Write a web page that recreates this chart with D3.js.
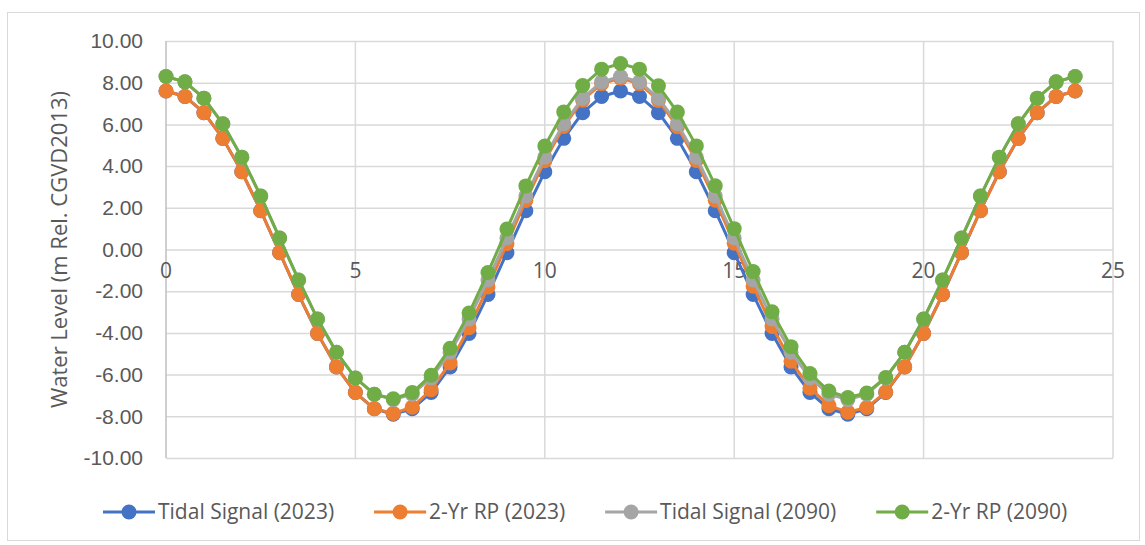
<!DOCTYPE html>
<html>
<head>
<meta charset="utf-8">
<script src="https://cdn.jsdelivr.net/npm/d3@7"></script>
<style>
  html, body { margin: 0; padding: 0; background: #fff; }
  svg { display: block; font-family: "Open Sans", "Liberation Sans", sans-serif; }
</style>
</head>
<body>
<div id="chart"></div>
<script>
// hours along the x axis, every half hour
const hours = [
  0, 0.5, 1, 1.5, 2, 2.5, 3, 3.5, 4, 4.5, 5, 5.5, 6, 6.5, 7, 7.5, 8, 8.5, 9, 9.5,
  10, 10.5, 11, 11.5, 12, 12.5, 13, 13.5, 14, 14.5, 15, 15.5, 16, 16.5, 17, 17.5,
  18, 18.5, 19, 19.5, 20, 20.5, 21, 21.5, 22, 22.5, 23, 23.5, 24,
];

// water levels (m)
const tide2023 = [
  7.6, 7.34, 6.56, 5.33, 3.73, 1.86, -0.15, -2.16, -4.03, -5.63, -6.86, -7.64, -7.9, -7.64, -6.86, -5.63, -4.03, -2.16, -0.15, 1.86,
  3.73, 5.33, 6.56, 7.34, 7.6, 7.34, 6.56, 5.33, 3.73, 1.86, -0.15, -2.16, -4.03, -5.63, -6.86, -7.64,
  -7.9, -7.64, -6.86, -5.63, -4.03, -2.16, -0.15, 1.86, 3.73, 5.33, 6.56, 7.34, 7.6,
];
const rp2023 = [
  7.6, 7.34, 6.56, 5.33, 3.73, 1.86, -0.15, -2.16, -4.03, -5.63, -6.86, -7.64, -7.86, -7.56, -6.73, -5.44, -3.75, -1.8, 0.28, 2.35,
  4.26, 5.9, 7.16, 7.95, 8.22, 7.95, 7.15, 5.89, 4.27, 2.36, 0.3, -1.76, -3.69, -5.36, -6.65, -7.49,
  -7.8, -7.58, -6.84, -5.63, -4.03, -2.16, -0.15, 1.86, 3.73, 5.33, 6.56, 7.34, 7.6,
];
const tide2090 = [
  8.3, 8.04, 7.26, 6.03, 4.43, 2.56, 0.55, -1.46, -3.33, -4.93, -6.16, -6.94, -7.2, -6.94, -6.16, -4.93, -3.33, -1.46, 0.55, 2.56,
  4.43, 6.03, 7.26, 8.04, 8.3, 8.04, 7.26, 6.03, 4.43, 2.56, 0.55, -1.46, -3.33, -4.93, -6.16, -6.94,
  -7.2, -6.94, -6.16, -4.93, -3.33, -1.46, 0.55, 2.56, 4.43, 6.03, 7.26, 8.04, 8.3,
];
const rp2090 = [
  8.3, 8.04, 7.26, 6.03, 4.43, 2.56, 0.55, -1.46, -3.33, -4.93, -6.16, -6.94, -7.16, -6.86, -6.03, -4.74, -3.05, -1.1, 0.98, 3.05,
  4.96, 6.6, 7.86, 8.65, 8.92, 8.65, 7.85, 6.59, 4.97, 3.06, 1.0, -1.06, -2.99, -4.66, -5.95, -6.79,
  -7.1, -6.88, -6.14, -4.93, -3.33, -1.46, 0.55, 2.56, 4.43, 6.03, 7.26, 8.04, 8.3,
];

const seriesNames = ["Tidal Signal (2023)", "2-Yr RP (2023)", "Tidal Signal (2090)", "2-Yr RP (2090)"];
const seriesValues = [tide2023, rp2023, tide2090, rp2090];
const colours = ["#4472C4", "#ED7D31", "#A5A5A5", "#70AD47"];

const xTicks = [0, 5, 10, 15, 20, 25];
const yTicks = [-10, -8, -6, -4, -2, 0, 2, 4, 6, 8, 10];
const yTitle = "Water Level (m Rel. CGVD2013)";

const width = 1145;
const height = 545;
const plot = { left: 166, right: 1113, top: 41, bottom: 458 };
const markerR = 7.5;
const fontSize = 21;

const svg = d3
  .select("#chart")
  .append("svg")
  .attr("width", width)
  .attr("height", height);

// chart area border
svg
  .append("rect")
  .attr("x", 7.5)
  .attr("y", 12.5)
  .attr("width", 1132)
  .attr("height", 528)
  .attr("fill", "#fff")
  .attr("stroke", "#d9d9d9");

const x = d3.scaleLinear().domain([0, 25]).range([plot.left, plot.right]);
const y = d3.scaleLinear().domain([-10, 10]).range([plot.bottom, plot.top]);

// horizontal gridlines + y labels
svg
  .append("g")
  .attr("transform", `translate(${plot.left},0)`)
  .call(
    d3.axisLeft(y)
      .tickValues(yTicks)
      .tickSize(-(plot.right - plot.left))
      .tickPadding(23)
      .tickFormat((d) => d.toFixed(2))
  )
  .call((g) => g.select(".domain").remove())
  .call((g) => g.selectAll("line").attr("stroke", "#d9d9d9").attr("stroke-width", 1.5))
  .call((g) =>
    g.selectAll("text").attr("fill", "#595959").attr("font-size", fontSize)
  );

// vertical gridlines
svg
  .append("g")
  .selectAll("line")
  .data(xTicks.slice(1))
  .join("line")
  .attr("x1", (d) => x(d))
  .attr("x2", (d) => x(d))
  .attr("y1", plot.top)
  .attr("y2", plot.bottom)
  .attr("stroke", "#d9d9d9")
  .attr("stroke-width", 1.5);

// vertical axis line at x = 0
svg
  .append("line")
  .attr("x1", x(0))
  .attr("x2", x(0))
  .attr("y1", plot.top)
  .attr("y2", plot.bottom)
  .attr("stroke", "#bfbfbf")
  .attr("stroke-width", 1.5);

// x labels sit just under the zero line
svg
  .append("g")
  .selectAll("text")
  .data(xTicks)
  .join("text")
  .attr("x", (d) => x(d))
  .attr("y", y(0) + 28)
  .attr("text-anchor", "middle")
  .attr("fill", "#595959")
  .attr("font-size", fontSize)
  .text((d) => d);

// y axis title
svg
  .append("text")
  .attr("transform", `translate(67,${(plot.top + plot.bottom) / 2}) rotate(-90)`)
  .attr("text-anchor", "middle")
  .attr("fill", "#595959")
  .attr("font-size", 22)
  .text(yTitle);

const line = d3
  .line()
  .x((d) => x(d[0]))
  .y((d) => y(d[1]));

// series, drawn in order so green ends up on top
seriesValues.forEach((vals, i) => {
  const pts = hours.map((h, j) => [h, vals[j]]);
  const g = svg.append("g");
  g.append("path")
    .datum(pts)
    .attr("d", line)
    .attr("fill", "none")
    .attr("stroke", colours[i])
    .attr("stroke-width", 3)
    .attr("stroke-linejoin", "round");
  g.selectAll("circle")
    .data(pts)
    .join("circle")
    .attr("cx", (d) => x(d[0]))
    .attr("cy", (d) => y(d[1]))
    .attr("r", markerR)
    .attr("fill", colours[i]);
});

// legend along the bottom
const legend = svg.append("g").attr("transform", "translate(103,512)");
let lx = 0;
seriesNames.forEach((name, i) => {
  const item = legend.append("g").attr("transform", `translate(${lx},0)`);
  item
    .append("line")
    .attr("x1", 0)
    .attr("x2", 52)
    .attr("stroke", colours[i])
    .attr("stroke-width", 3);
  item.append("circle").attr("cx", 26).attr("r", markerR).attr("fill", colours[i]);
  const t = item
    .append("text")
    .attr("x", 55)
    .attr("dy", "0.35em")
    .attr("fill", "#595959")
    .attr("font-size", fontSize)
    .text(name);
  lx += 55 + t.node().getComputedTextLength() + 40;
});
</script>
</body>
</html>
